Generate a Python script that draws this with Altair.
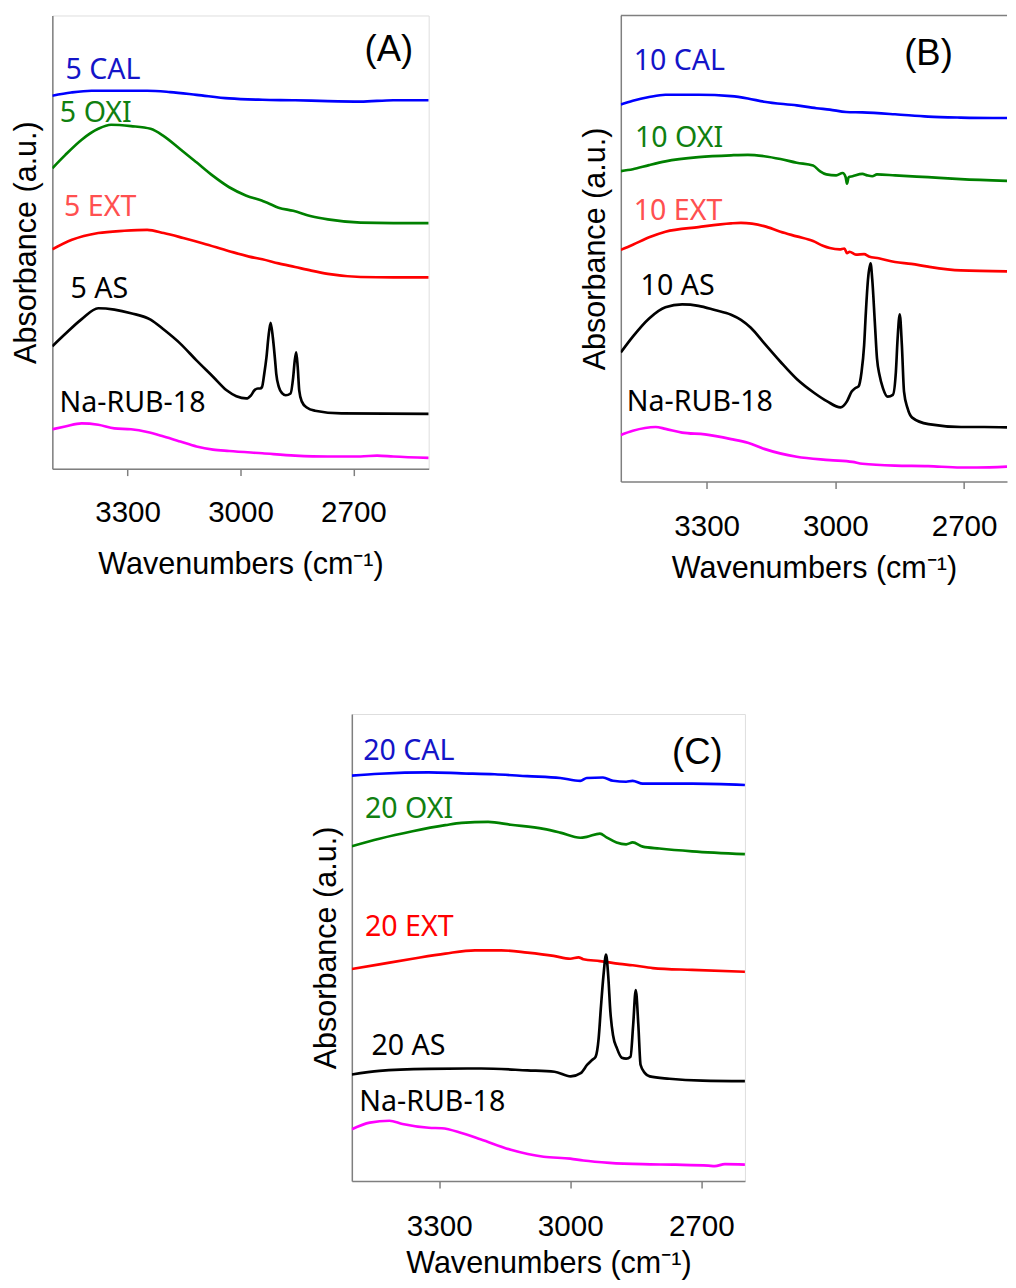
import altair as alt
import pandas as pd

# ---------------- Panel (A): 5 ----------------
A_CAL_WN = [3500, 3450, 3396, 3248, 3187, 3117, 3030, 2942, 2855, 2768, 2681, 2594, 2500]
A_CAL_V = [82.3, 83.0, 83.4, 83.4, 83.1, 82.5, 81.7, 81.4, 81.3, 81.1, 81.0, 81.3, 81.3]

A_OXI_WN = [3500, 3466, 3422, 3378, 3344, 3291, 3239, 3204, 3160, 3117, 3073, 3030, 2986,
            2942, 2929, 2899, 2860, 2812, 2768, 2681, 2594, 2500]
A_OXI_V = [66.3, 69.2, 72.6, 75.0, 75.9, 75.6, 75.0, 73.4, 70.5, 67.6, 64.6, 62.1, 60.3,
           59.1, 58.7, 57.6, 56.9, 55.7, 55.0, 54.3, 54.2, 54.2]

A_EXT_WN = [3500, 3448, 3378, 3309, 3248, 3204, 3152, 3099, 3030, 2977, 2942, 2899, 2855,
            2812, 2768, 2681, 2594, 2500]
A_EXT_V = [48.4, 50.5, 52.0, 52.5, 52.7, 52.0, 50.9, 49.7, 48.0, 46.8, 46.2, 45.3, 44.5,
           43.7, 43.0, 42.3, 42.2, 42.2]

A_AS_WN = [3500, 3466, 3422, 3378, 3335, 3291, 3239, 3204, 3160, 3117, 3073, 3037, 3011,
           2985, 2972, 2963, 2954, 2948, 2943, 2937, 2931, 2926, 2920, 2914, 2908, 2905,
           2898, 2889, 2880, 2867, 2860, 2856, 2852, 2848, 2844, 2837, 2824, 2802, 2732, 2500]
A_AS_V = [27.0, 29.7, 33.0, 35.4, 35.1, 34.3, 32.9, 30.7, 27.6, 23.9, 20.3, 17.3, 16.0,
          15.5, 16.2, 17.3, 17.7, 17.7, 18.0, 20.9, 24.6, 28.9, 32.2, 28.9, 23.8, 20.9,
          18.0, 16.6, 16.2, 16.6, 20.2, 23.8, 25.7, 22.4, 17.3, 14.8, 13.5, 12.8, 12.2, 12.1]

A_RUB_WN = [3500, 3466, 3422, 3378, 3335, 3291, 3248, 3204, 3160, 3117, 3073, 3030, 2942,
            2855, 2768, 2681, 2637, 2594, 2500]
A_RUB_V = [8.7, 9.3, 10.0, 9.7, 8.9, 8.7, 8.1, 7.1, 6.0, 4.9, 4.2, 3.9, 3.4,
           2.9, 2.7, 2.7, 2.9, 2.7, 2.4]

# ---------------- Panel (B): 10 ----------------
B_CAL_WN = [3500, 3472, 3434, 3396, 3319, 3243, 3204, 3166, 3090, 3044, 3013, 2975, 2937,
            2861, 2784, 2708, 2600]
B_CAL_V = [80.9, 81.7, 82.5, 83.0, 83.0, 82.7, 82.2, 81.5, 80.7, 80.1, 79.8, 79.3, 79.2,
           78.8, 78.3, 78.1, 78.0]

B_OXI_WN = [3500, 3472, 3434, 3396, 3319, 3243, 3204, 3166, 3128, 3090, 3052, 3036, 3021,
            2998, 2983, 2976, 2973, 2969, 2960, 2937, 2926, 2914, 2903, 2861, 2784, 2708, 2600]
B_OXI_V = [66.6, 67.0, 67.9, 68.7, 69.6, 70.0, 70.1, 69.8, 69.2, 68.4, 67.8, 66.6, 65.9,
           65.7, 66.2, 65.3, 63.9, 65.3, 65.5, 66.0, 65.7, 65.5, 65.9, 65.7, 65.3, 64.9, 64.5]

B_EXT_WN = [3500, 3472, 3434, 3396, 3319, 3243, 3220, 3166, 3128, 3090, 3052, 3029, 3013,
            2990, 2979, 2973, 2967, 2952, 2933, 2922, 2899, 2861, 2823, 2784, 2708, 2600]
B_EXT_V = [49.7, 50.8, 52.4, 53.6, 54.6, 55.4, 55.5, 54.8, 53.6, 52.6, 51.6, 50.6, 50.1,
           49.8, 50.0, 49.0, 49.3, 48.7, 48.8, 48.3, 47.9, 47.1, 46.7, 46.1, 45.3, 45.1]

B_AS_WN = [3500, 3472, 3434, 3396, 3357, 3319, 3281, 3243, 3220, 3197, 3166, 3128, 3090,
           3049, 3019, 2988, 2973, 2962, 2954, 2946, 2939, 2933, 2929, 2924, 2918, 2914,
           2908, 2903, 2897, 2889, 2878, 2866, 2859, 2855, 2850, 2845, 2840, 2832, 2821,
           2783, 2707, 2653, 2600]
B_AS_V = [27.7, 31.1, 35.0, 37.4, 38.0, 37.7, 36.8, 35.8, 34.7, 33.0, 29.7, 25.7, 22.0,
          19.0, 17.2, 15.9, 17.2, 19.3, 20.0, 20.4, 23.5, 29.2, 36.2, 43.3, 46.8, 43.3,
          34.1, 26.4, 22.8, 20.0, 18.2, 18.6, 23.5, 30.6, 35.9, 29.2, 19.3, 15.8, 13.7,
          12.3, 11.7, 11.7, 11.6]

B_RUB_WN = [3500, 3472, 3419, 3396, 3357, 3304, 3243, 3204, 3166, 3090, 3013, 2960, 2937,
            2861, 2784, 2708, 2670, 2600]
B_RUB_V = [10.0, 10.9, 11.7, 11.3, 10.5, 10.1, 9.1, 8.3, 7.0, 5.3, 4.6, 4.2, 3.8,
           3.4, 3.3, 3.0, 3.0, 3.2]

# ---------------- Panel (C): 20 ----------------
C_CAL_WN = [3500, 3437, 3324, 3249, 3173, 3098, 3023, 2977, 2962, 2925, 2902, 2872, 2857,
            2834, 2796, 2721, 2600]
C_CAL_V = [86.8, 87.2, 87.5, 87.3, 87.1, 86.7, 86.3, 85.7, 86.3, 86.4, 85.7, 85.5, 85.7,
           85.1, 85.1, 85.1, 84.8]

C_OXI_WN = [3500, 3437, 3361, 3286, 3249, 3188, 3136, 3061, 3023, 2977, 2962, 2932, 2917,
            2894, 2872, 2857, 2834, 2796, 2721, 2600]
C_OXI_V = [71.7, 73.3, 74.9, 76.2, 76.7, 76.9, 76.3, 75.4, 74.6, 73.5, 73.7, 74.4, 73.6,
           72.5, 72.1, 72.5, 71.6, 71.2, 70.6, 70.0]

C_EXT_WN = [3500, 3437, 3361, 3286, 3218, 3158, 3098, 3038, 3000, 2981, 2970, 2932, 2887,
            2857, 2811, 2721, 2600]
C_EXT_V = [45.4, 46.4, 47.6, 48.7, 49.4, 49.4, 48.9, 48.2, 47.6, 47.9, 47.5, 47.1, 46.5,
           46.2, 45.6, 45.2, 44.8]

C_AS_WN = [3500, 3437, 3324, 3204, 3098, 3036, 2999, 2976, 2961, 2950, 2942, 2935, 2930,
           2924, 2918, 2913, 2908, 2902, 2893, 2882, 2872, 2862, 2856, 2850, 2844, 2839,
           2829, 2818, 2773, 2697, 2600]
C_AS_V = [22.8, 23.6, 24.0, 24.1, 23.7, 23.4, 22.4, 23.1, 24.9, 25.9, 26.6, 30.5, 36.9,
          43.9, 48.5, 43.9, 36.1, 31.2, 28.4, 26.4, 26.2, 26.6, 33.3, 40.9, 33.3, 24.9,
          23.1, 22.4, 21.9, 21.5, 21.4]

C_RUB_WN = [3500, 3459, 3414, 3384, 3324, 3294, 3249, 3204, 3136, 3061, 3000, 2970, 2910,
            2834, 2759, 2684, 2669, 2646, 2600]
C_RUB_V = [11.1, 12.5, 12.9, 12.2, 11.4, 11.3, 10.3, 8.9, 6.7, 5.2, 4.8, 4.4, 3.9,
           3.6, 3.5, 3.3, 3.2, 3.6, 3.5]

SERIES = ["CAL", "OXI", "EXT", "AS", "RUB"]
SERIES_COLORS = ["#0000ff", "#008000", "#ff0000", "#000000", "#ff00ff"]

CURVES = {
    "A": [("CAL", A_CAL_WN, A_CAL_V), ("OXI", A_OXI_WN, A_OXI_V), ("EXT", A_EXT_WN, A_EXT_V),
          ("AS", A_AS_WN, A_AS_V), ("RUB", A_RUB_WN, A_RUB_V)],
    "B": [("CAL", B_CAL_WN, B_CAL_V), ("OXI", B_OXI_WN, B_OXI_V), ("EXT", B_EXT_WN, B_EXT_V),
          ("AS", B_AS_WN, B_AS_V), ("RUB", B_RUB_WN, B_RUB_V)],
    "C": [("CAL", C_CAL_WN, C_CAL_V), ("OXI", C_OXI_WN, C_OXI_V), ("EXT", C_EXT_WN, C_EXT_V),
          ("AS", C_AS_WN, C_AS_V), ("RUB", C_RUB_WN, C_RUB_V)],
}

# annotation texts (text, anchor wavenumber, anchor value, colour)
LABELS = {
    "A": [("5 CAL", 3465, 88.4, "#1414c8"), ("5 OXI", 3480, 78.8, "#108010"),
          ("5 EXT", 3469, 58.1, "#ff5050"), ("5 AS", 3452, 40.0, "#000000"),
          ("Na-RUB-18", 3481, 15.0, "#000000")],
    "B": [("10 CAL", 3470, 90.7, "#1414c8"), ("10 OXI", 3467, 74.1, "#108010"),
          ("10 EXT", 3470, 58.5, "#ff5050"), ("10 AS", 3454, 42.3, "#000000"),
          ("Na-RUB-18", 3486, 17.4, "#000000")],
    "C": [("20 CAL", 3474, 92.5, "#1414c8"), ("20 OXI", 3470, 80.0, "#108010"),
          ("20 EXT", 3470, 54.8, "#ff0000"), ("20 AS", 3455, 29.4, "#000000"),
          ("Na-RUB-18", 3483, 17.4, "#000000")],
}
LETTERS = {"A": ("(A)", 2606, 92.4), "B": ("(B)", 2783, 91.7), "C": ("(C)", 2709, 91.6)}

TICKS = [3300, 3000, 2700]
FRAME = "#7f7f7f"
AXFONT = "Liberation Sans"
LABFONT = "Noto Sans"


def make_panel(key, width, height, domain, label_pad, title_pad, frame=True):
    rows = []
    for name, wns, vals in CURVES[key]:
        for w, v in zip(wns, vals):
            rows.append({"series": name, "wn": w, "v": v})
    df = pd.DataFrame(rows)
    lab = pd.DataFrame([{"text": t, "wn": w, "v": v, "col": c} for t, w, v, c in LABELS[key]])
    let = pd.DataFrame([{"text": LETTERS[key][0], "wn": LETTERS[key][1], "v": LETTERS[key][2]}])

    x = alt.X("wn:Q",
              scale=alt.Scale(domain=domain, nice=False, zero=False),
              axis=alt.Axis(values=TICKS, title="Wavenumbers (cm⁻¹)", format="d",
                            tickSize=7, labelPadding=label_pad, titlePadding=title_pad,
                            labelFont=AXFONT, labelFontSize=30, labelColor="#000000",
                            titleFont=AXFONT, titleFontSize=31, titleFontWeight="normal",
                            titleColor="#000000", domainColor=FRAME, tickColor=FRAME,
                            domainWidth=1.5, tickWidth=1.5, grid=False, labelFlush=False))
    y = alt.Y("v:Q",
              scale=alt.Scale(domain=[0, 100], nice=False, zero=False),
              axis=alt.Axis(title="Absorbance (a.u.)", labels=False, ticks=False, grid=False,
                            minExtent=0, titlePadding=10, titleFont=AXFONT, titleFontSize=31,
                            titleFontWeight="normal", titleColor="#000000",
                            domainColor=FRAME, domainWidth=1.5))

    lines = alt.Chart(df).mark_line(strokeWidth=2.7, clip=True, interpolate="monotone").encode(
        x=x, y=y,
        color=alt.Color("series:N", scale=alt.Scale(domain=SERIES, range=SERIES_COLORS), legend=None),
        detail="series:N",
    )
    texts = alt.Chart(lab).mark_text(align="left", baseline="middle", font=LABFONT,
                                     fontSize=29, dy=2).encode(
        x="wn:Q", y="v:Q", text="text:N", color=alt.Color("col:N", scale=None))
    letter = alt.Chart(let).mark_text(align="center", baseline="middle", font=AXFONT,
                                      fontSize=37, color="#000000").encode(
        x="wn:Q", y="v:Q", text="text:N")
    layers = [lines, texts, letter]
    props = dict(width=width, height=height)
    if not frame:
        top = alt.Chart(pd.DataFrame({"a": [0]})).mark_rule(color=FRAME, strokeWidth=1.5).encode(
            x=alt.value(0), x2=alt.value(width), y=alt.value(0))
        layers.append(top)
        props["view"] = alt.ViewBackground(strokeOpacity=0)
    return alt.layer(*layers).properties(**props)


panel_a = make_panel("A", 382, 460, [3500, 2500], 23, 22)
panel_b = make_panel("B", 392, 473, [3500, 2600], 24, 12, frame=False)
panel_c = make_panel("C", 399, 474, [3500, 2600], 24, 8)

spacer = alt.Chart(pd.DataFrame({"a": [0]})).mark_point(opacity=0).encode(
    x=alt.value(0), y=alt.value(0)).properties(width=261, height=10,
                                               view=alt.ViewBackground(strokeOpacity=0))

row1 = alt.hconcat(panel_a, panel_b, spacing=152)
row2 = alt.hconcat(spacer, panel_c, spacing=0)

chart = alt.vconcat(row1, row2, spacing=130).properties(
    padding={"left": 2, "top": -3, "right": 0, "bottom": 0}
).configure_view(stroke=FRAME, strokeWidth=1.5).configure(background="#ffffff")

chart.save("out.html", embed_options={"renderer": "svg", "actions": False})
